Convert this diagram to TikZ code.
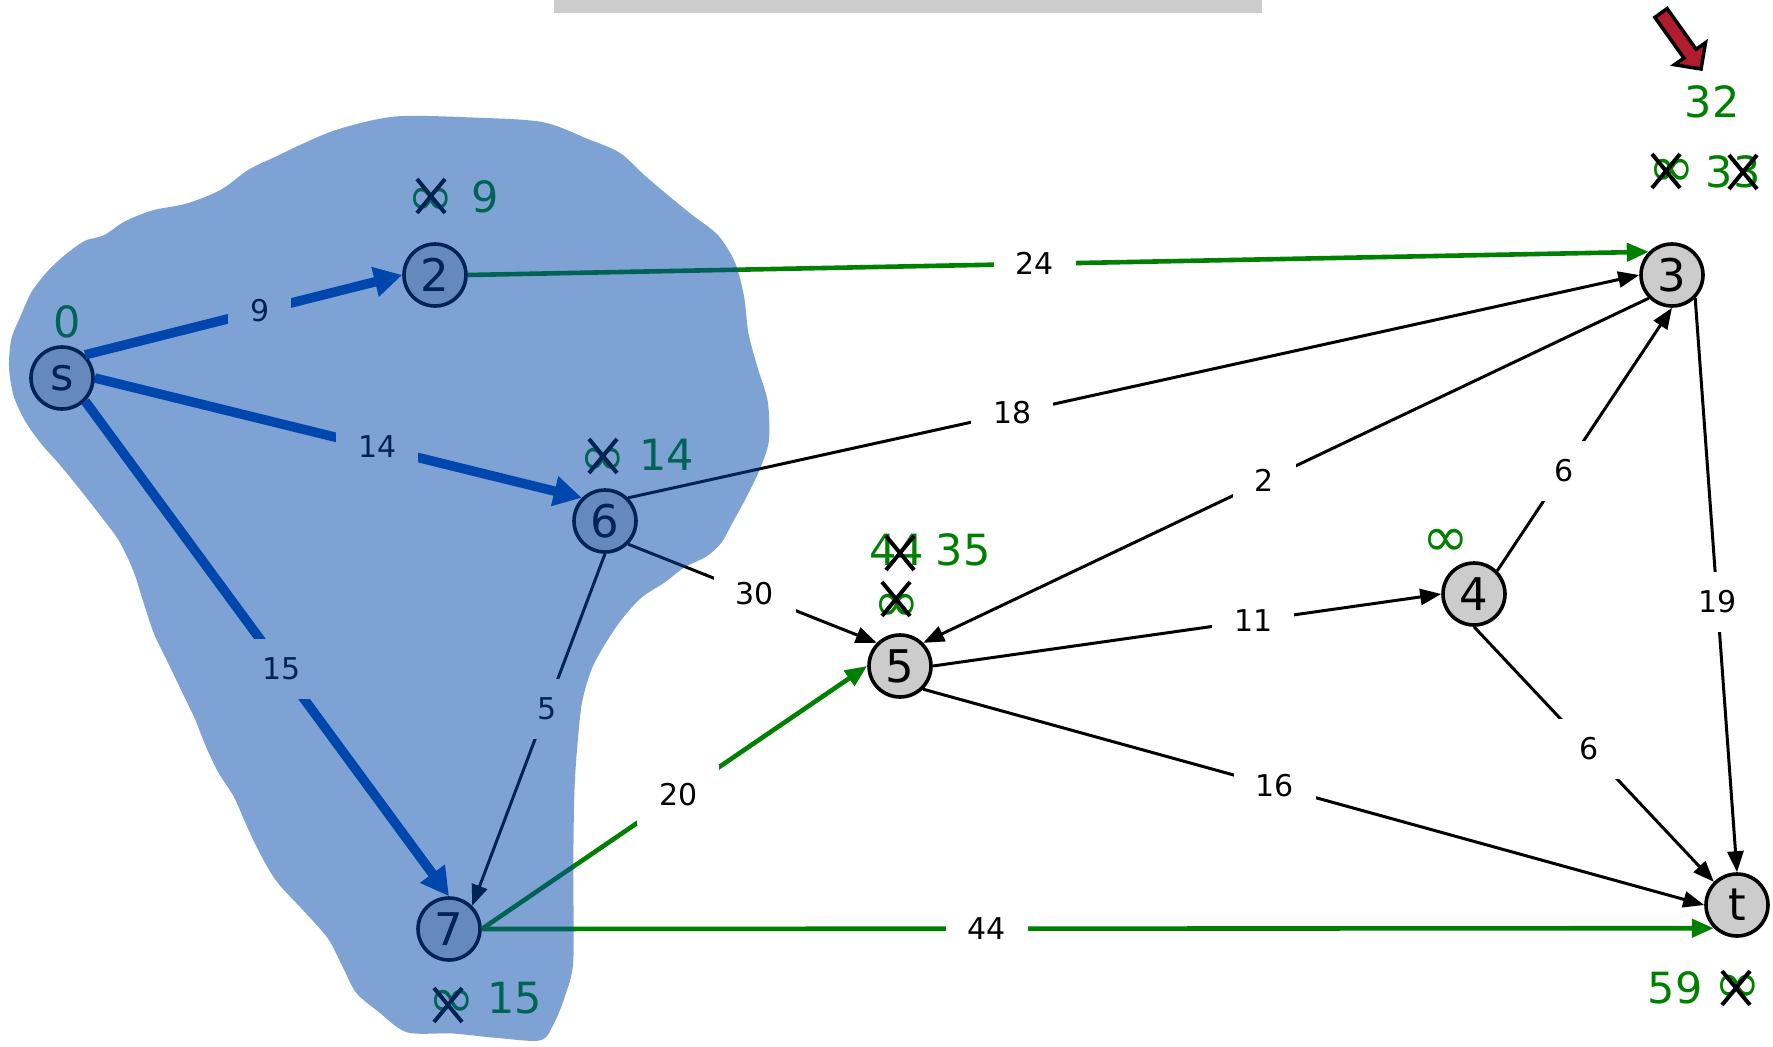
\documentclass[tikz,border=0pt]{standalone}
\usepackage{fontspec}
\setmainfont{DejaVu Sans}
\usetikzlibrary{arrows.meta}
\definecolor{blobc}{RGB}{0,71,173}
\definecolor{grn}{RGB}{0,128,0}
\definecolor{nodegray}{RGB}{204,204,204}
\definecolor{redarrow}{RGB}{178,28,46}
\definecolor{barg}{RGB}{204,204,204}
\newcommand\infsym{{\fontsize{56}{56}\selectfont ∞}}
\begin{document}
\begin{tikzpicture}[x=1pt,y=-1pt,
 vert/.style={circle,draw=black,line width=3.6pt,fill=nodegray,minimum size=62pt,inner sep=0pt,font=\fontsize{45}{50}\selectfont},
 edge/.style={draw=black,line width=3pt,-{Triangle[length=21pt,width=16pt]}},
 gedge/.style={draw=grn,line width=4.6pt,-{Triangle[length=22pt,width=18pt]}},
 bedge/.style={draw=blobc,line width=9.5pt,-{Triangle[length=28pt,width=29pt]}},
 wt/.style={fill=white,inner xsep=22pt,inner ysep=0pt,text height=21pt,text depth=0pt,minimum height=60pt,font=\fontsize{30}{32}\selectfont,text=black},
 dist/.style={text=grn,font=\fontsize{43}{48}\selectfont,inner sep=0pt},
 xmark/.style={draw=black,line width=4pt},
 xx/.pic={\draw[xmark] (-14,-17) -- (14,17) (-14,17) -- (14,-17);}
]
\useasboundingbox (0,0) rectangle (1773,1047);
\fill[white] (0,0) rectangle (1773,1047);

% vertices
\node[vert] (s)  at (62,378) {s};
\node[vert] (n2) at (435,275) {2};
\node[vert] (n6) at (605,521) {6};
\node[vert] (n7) at (449,929) {7};
\node[vert] (n5) at (900,666) {5};
\node[vert] (n4) at (1474,594) {4};
\node[vert] (n3) at (1672,275) {3};
\node[vert] (t)  at (1737,905) {t};

% edges
\draw[bedge] (s.45)  -- node[wt,pos=0.55] (w9) {9} (n2.180);
\draw[bedge] (s.0)   -- node[wt,pos=0.58] (w14) {14} (n6.135);
\draw[bedge] (s.315) -- node[wt,pos=0.54] (w15) {15} (n7.90);
\draw[gedge] (n2.0)  -- node[wt,pos=0.48] (w24) {24} (n3.135);
\draw[edge]  (n6.45) -- node[wt,pos=0.38] (w18) {18} (n3.180);
\draw[edge]  (n6.315) -- node[wt,pos=0.51] (w30) {30} (n5.135);
\draw[edge]  (n6.270) -- node[wt,pos=0.44] (w5) {5} (n7.45);
\draw[edge]  (n3.225) -- node[wt,pos=0.53] (w2) {2} (n5.45);
\draw[edge]  (n4.45) -- node[wt,pos=0.38] (w6a) {6} (n3.270);
\draw[edge]  (n3.315) -- node[wt,pos=0.53] (w19) {19} (t.90);
\draw[edge]  (n5.0) -- node[wt,pos=0.63] (w11) {11} (n4.180);
\draw[edge]  (n5.315) -- node[wt,pos=0.45] (w16) {16} (t.180);
\draw[edge]  (n4.270) -- node[wt,pos=0.48] (w6b) {6} (t.135);
\draw[gedge] (n7.0) -- node[wt,pos=0.51] (w20) {20} (n5.180);
\draw[gedge] (n7.0) -- node[wt,pos=0.41] (w44) {44} (t.225);

% distance labels
\node[dist] (d0) at (67,322) {0};
\node[dist] (d2i) at (431,202) {\infsym};
\node[dist] (d2) at (485,197) {9};
\pic at (431,196) {xx};
\node[dist] (d6i) at (603,462) {\infsym};
\node[dist] (d6) at (667,455) {14};
\pic at (603,456) {xx};
\node[dist] (d7i) at (452,1004) {\infsym};
\node[dist] (d7) at (515,998) {15};
\pic at (448,1005) {xx};
\node[dist] (d5a) at (897,550) {44};
\pic at (900,553) {xx};
\node[dist] (d5) at (963,550) {35};
\node[dist] (d5i) at (897,608) {\infsym};
\pic at (896,599) {xx};
\node[dist] (d4i) at (1446,543) {\infsym};
\node[dist] (d3) at (1712,102) {32};
\node[dist] (d3i) at (1672,173) {\infsym};
\pic at (1666,171) {xx};
\node[dist] (d3a) at (1733,172) {33};
\pic at (1743,172) {xx};
\node[dist] (dt) at (1675,988) {59};
\node[dist] (dti) at (1738,989) {\infsym};
\pic at (1736,988) {xx};

% blob
\begin{scope}[scale=1.1307]
\fill[blobc,fill opacity=0.5] plot[smooth cycle,tension=0.5] coordinates {
(350,103) (420,104) (480,108) (520,123) (548,135) (570,155) (590,172) (612,190) (635,208) (650,232) (658,262) (662,295) (670,325) (679,355) (680,390) (672,415) (660,440) (648,462) (638,480) (625,492) (605,502) (588,515) (568,528) (552,545) (538,565) (524,590) (515,620) (511,655) (508,700) (507,770) (507,850) (500,880) (490,905) (478,920) (440,918) (400,914) (360,913) (335,895) (315,878) (303,855) (290,830) (268,805) (245,780) (230,755) (218,730) (207,705) (193,683) (182,660) (172,635) (160,610) (148,585) (136,560) (126,530) (118,505) (105,478) (88,455) (70,432) (52,410) (36,392) (22,372) (12,350) (8,325) (10,300) (18,280) (28,258) (42,240) (58,225) (75,213) (92,208) (110,196) (135,186) (165,180) (195,168) (220,150) (245,138) (268,127) (300,114)};
\end{scope}

% red arrow
\filldraw[fill=redarrow,draw=black,line width=3.5pt,line join=miter]
 (1667.1,8.6) -- (1696.1,49.3) -- (1705.5,42.7) -- (1701,69) -- (1674.5,64.7) -- (1683.9,58.1) -- (1654.9,17.4) -- cycle;

% top bar
\fill[barg] (554,0) rectangle (1262,13);
\end{tikzpicture}
\end{document}
